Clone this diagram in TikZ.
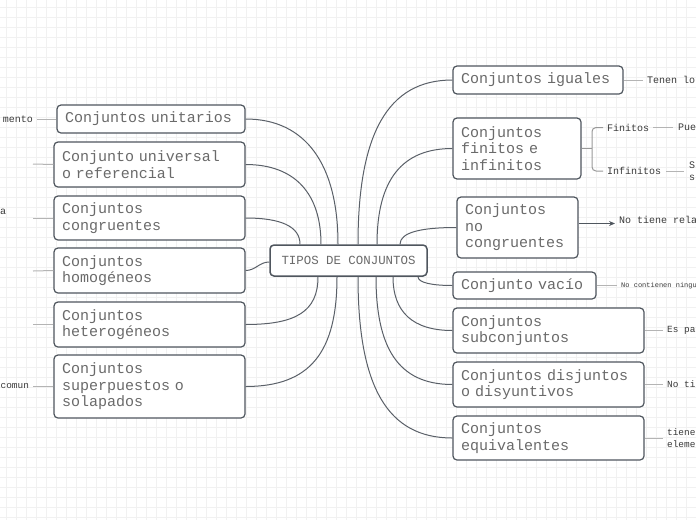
\documentclass[tikz,border=0pt]{standalone}
\usepackage{fontspec}
\setmainfont{Liberation Mono}
\usetikzlibrary{arrows.meta}
\definecolor{gridc}{HTML}{F1F1F1}
\definecolor{boxc}{HTML}{4F565E}
\definecolor{boxtext}{HTML}{6A6A6A}
\definecolor{linkc}{HTML}{5A6068}
\definecolor{leafline}{HTML}{B4B4B4}
\definecolor{leaftext}{HTML}{3A3A3A}
\tikzset{
  mbox/.style={draw=boxc, line width=1.2pt, rounded corners=4pt, fill=white,
    text=boxtext, align=left, inner xsep=8pt, inner ysep=0pt,
    font=\fontsize{15}{16.5}\selectfont},
  cbox/.style={draw=boxc, line width=1.5pt, rounded corners=4pt, fill=white,
    text=boxtext, align=center, inner xsep=4pt, inner ysep=0pt,
    font=\fontsize{12.4}{14}\selectfont},
  link/.style={draw=linkc, line width=1pt},
  leafl/.style={draw=leafline, line width=1pt},
  leaf/.style={text=leaftext, inner sep=0pt, align=left,
    font=\fontsize{10}{12}\selectfont},
  leafs/.style={leaf, font=\fontsize{9.4}{12}\selectfont},
  tiny/.style={text=leaftext, inner sep=0pt, font=\fontsize{7}{8}\selectfont},
  gridline/.style={draw=gridc, line width=0.7pt}
}
\begin{document}
\begin{tikzpicture}[x=1pt,y=-1pt]
\useasboundingbox[fill=white] (0,0) rectangle (696,520);
\foreach \i in {0,...,69} \draw[gridline] (6+10*\i,0) -- (6+10*\i,520);
\foreach \j in {0,...,51} \draw[gridline] (0,7+10*\j) -- (696,7+10*\j);

% centre
\node[cbox, minimum width=157pt, minimum height=31pt] (C) at (348.5,260.5) {TIPOS DE CONJUNTOS};

% left boxes
\node[mbox, text width=172pt, minimum height=28pt] (L1) at (151,119) {Conjuntos unitarios};
\node[mbox, text width=175pt, minimum height=45pt] (L2) at (149.5,164.5) {Conjunto universal\\o referencial};
\node[mbox, text width=175pt, minimum height=44pt] (L3) at (149.5,218) {Conjuntos\\congruentes};
\node[mbox, text width=175pt, minimum height=45pt] (L4) at (149.5,270.5) {Conjuntos\\homogéneos};
\node[mbox, text width=175pt, minimum height=45pt] (L5) at (149.5,324.5) {Conjuntos\\heterogéneos};
\node[mbox, text width=175pt, minimum height=63pt] (L6) at (149.5,386.5) {Conjuntos\\superpuestos o\\solapados};

% right boxes
\node[mbox, text width=154pt, minimum height=28pt] (R1) at (538,80) {Conjuntos iguales};
\node[mbox, text width=112pt, minimum height=61pt] (R2) at (517,148.5) {Conjuntos\\finitos e\\infinitos};
\node[mbox, text width=105pt, minimum height=61pt] (R3) at (517.5,227.5) {Conjuntos\\no\\congruentes};
\node[mbox, text width=127pt, minimum height=27pt] (R4) at (524.5,285.5) {Conjunto vacío};
\node[mbox, text width=175pt, minimum height=45pt] (R5) at (548.5,330.5) {Conjuntos\\subconjuntos};
\node[mbox, text width=175pt, minimum height=45pt] (R6) at (548.5,384.5) {Conjuntos disjuntos\\o disyuntivos};
\node[mbox, text width=175pt, minimum height=44pt] (R7) at (548.5,438) {Conjuntos\\equivalentes};

% main connectors (left)
\draw[link] (L1.east) .. controls +(60,0) and +(0,-80) .. ([xshift=-10.5pt]C.north);
\draw[link] (L2.east) .. controls +(50,0) and +(0,-50) .. ([xshift=-27.5pt]C.north);
\draw[link] (L3.east) .. controls +(35,0) and +(0,-18) .. ([xshift=-48.5pt]C.north);
\draw[link] (L4.east) .. controls +(10,0) and +(-10,0) .. ([yshift=-1.5pt]C.west);
\draw[link] (L5.east) .. controls +(50,0) and +(0,35) .. ([xshift=-30.5pt]C.south);
\draw[link] (L6.east) .. controls +(65,0) and +(0,75) .. ([xshift=-11.5pt]C.south);

% main connectors (right)
\draw[link] (R1.west) .. controls +(-65,0) and +(0,-110) .. ([xshift=9.5pt]C.north);
\draw[link] (R2.west) .. controls +(-50,0) and +(0,-65) .. ([xshift=28.5pt]C.north);
\draw[link] (R3.west) .. controls +(-35,0) and +(0,-12) .. ([xshift=51.5pt]C.north);
\draw[link] (R4.west) .. controls +(-20,0) and +(0,6) .. ([xshift=69.5pt]C.south);
\draw[link] (R5.west) .. controls +(-40,0) and +(0,35) .. ([xshift=44.5pt]C.south);
\draw[link] (R6.west) .. controls +(-55,0) and +(0,70) .. ([xshift=27.5pt]C.south);
\draw[link] (R7.west) .. controls +(-65,0) and +(0,110) .. ([xshift=9.5pt]C.south);

% left leaves
\node[leaf, anchor=east] (l1t) at (33,119) {mento};
\draw[leafl] ([xshift=4pt]l1t.east) -- (L1.west);
\coordinate (l2c) at (33,164);
\draw[leafl] (l2c) -- (L2.west);
\node[leaf, anchor=west] (l3t) at (0,212) {a};
\coordinate (l3c) at (33,218);
\draw[leafl] (l3c) -- (L3.west);
\coordinate (l4c) at (33,271);
\draw[leafl] (l4c) -- (L4.west);
\coordinate (l5c) at (33,324.5);
\draw[leafl] (l5c) -- (L5.west);
\node[leafs, anchor=west] (l6t) at (0.5,386.5) {comun};
\draw[leafl] ([xshift=4pt]l6t.east) -- (L6.west);

% right leaves
\node[leaf, anchor=west] (r1t) at (647,80) {Tenen lo};
\draw[leafl] (R1.east) -- ([xshift=-4pt]r1t.west);

\node[leaf, anchor=west] (fin) at (607,127.5) {Finitos};
\node[leaf, anchor=west] (inf) at (607,171) {Infinitos};
\coordinate (brk) at (592,148.5);
\draw[leafl, draw=leafline!85!black] (R2.east) -- (brk);
\draw[leafl, draw=leafline!85!black, rounded corners=4pt] ([xshift=-4pt]fin.west) -| (brk) |- ([xshift=-4pt]inf.west);
\node[leaf, anchor=west] (fint) at (678,127.5) {Pue};
\draw[leafl] ([xshift=4pt]fin.east) -- ([xshift=-5pt]fint.west);
\node[leaf, anchor=west] (inft) at (689,171) {S\\s};
\draw[leafl] ([xshift=5pt]inf.east) -- ([xshift=-5pt]inft.west);

\node[leaf, anchor=west] (r3t) at (619,220) {No tiene rela};
\coordinate (r3a) at (615,223.5);
\draw[draw=boxc, line width=1pt, -{Stealth[length=6pt,width=5pt]}] ([yshift=4pt]R3.east) -- (r3a);

\node[tiny, anchor=west] (r4t) at (621,285.5) {No contienen ningu};
\draw[leafl] (R4.east) -- ([xshift=-4pt]r4t.west);

\node[leafs, anchor=west] (r5t) at (667,330.5) {Es pa};
\draw[leafl] (R5.east) -- ([xshift=-4pt]r5t.west);
\node[leafs, anchor=west] (r6t) at (667,384.5) {No ti};
\draw[leafl] (R6.east) -- ([xshift=-4pt]r6t.west);
\node[leafs, anchor=west] (r7t) at (667,438) {tiene\\eleme};
\draw[leafl] (R7.east) -- ([xshift=-4pt]r7t.west);
\end{tikzpicture}
\end{document}
